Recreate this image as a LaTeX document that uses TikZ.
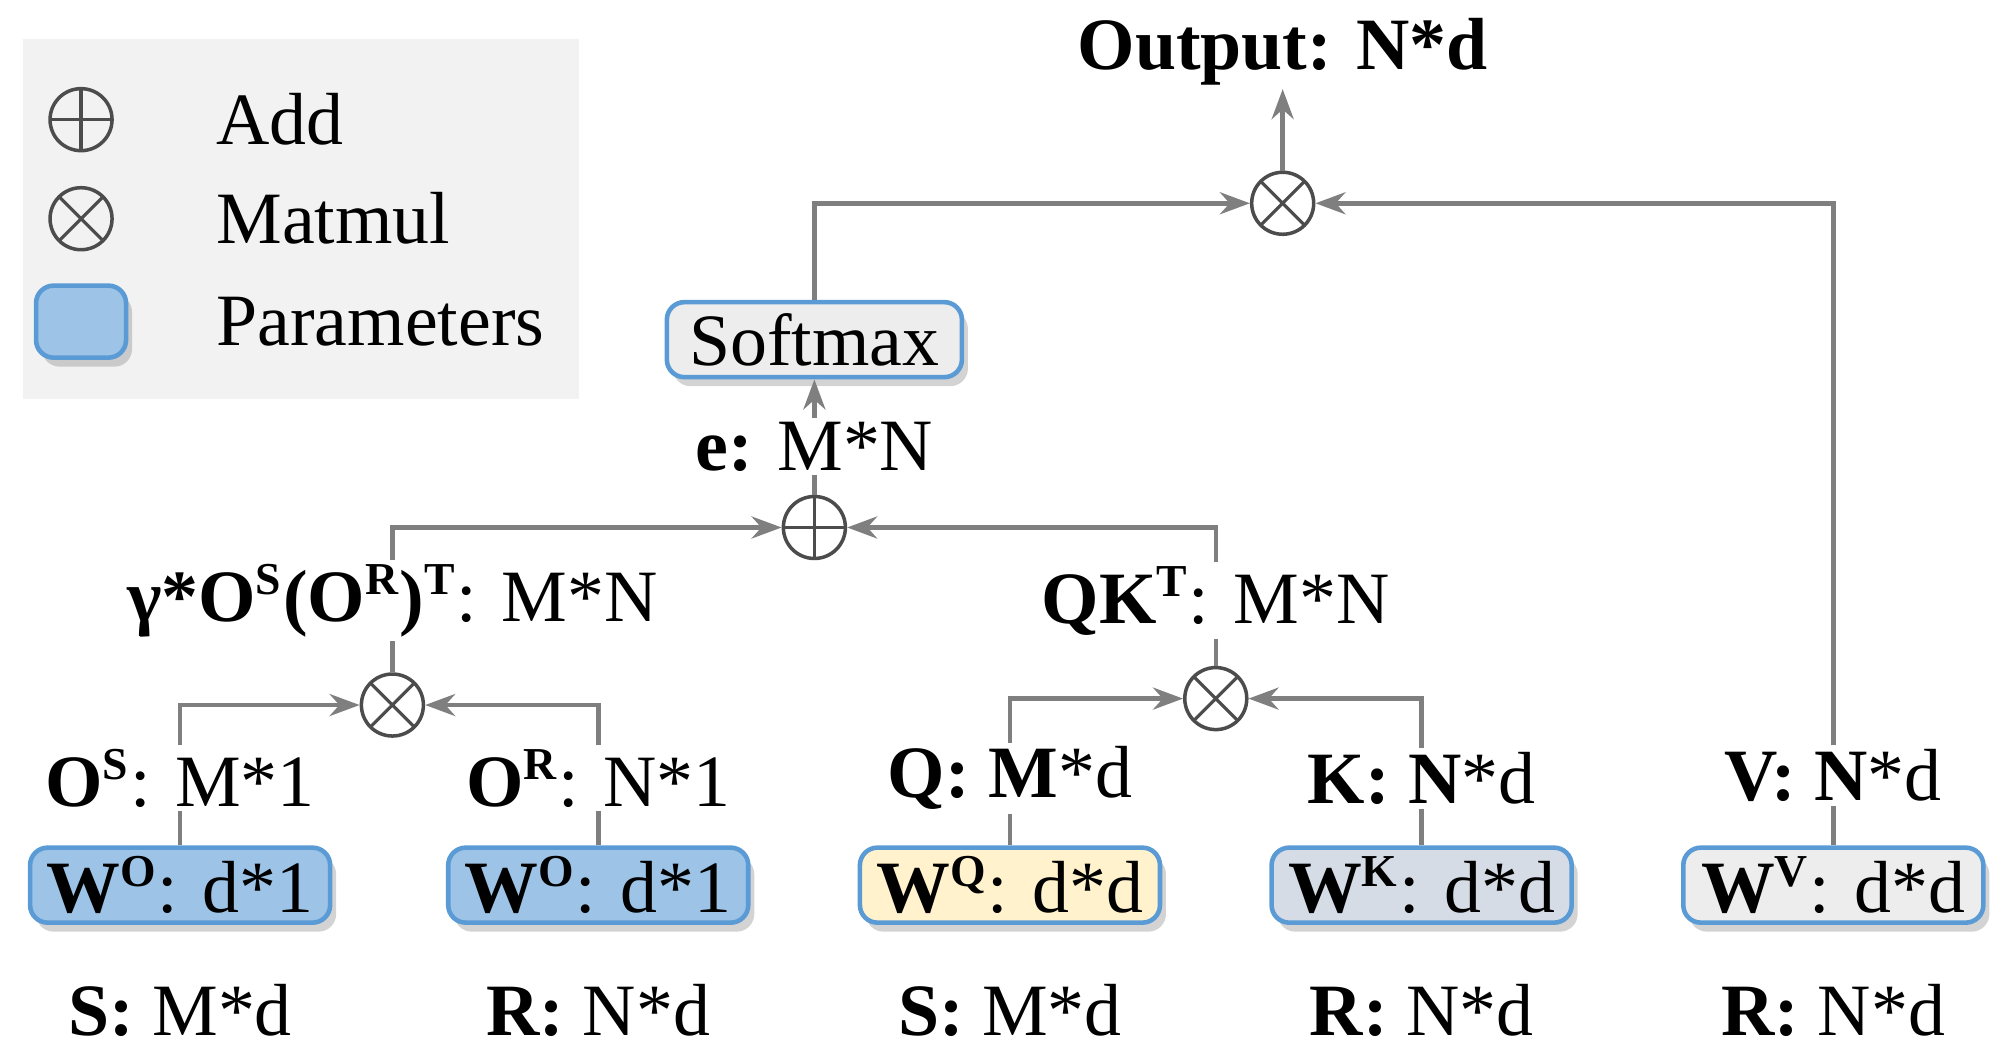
\documentclass[tikz,border=0pt]{standalone}
\usepackage{fontspec}
\setmainfont{Liberation Serif}
\usetikzlibrary{shadows,arrows.meta}
\definecolor{lineg}{HTML}{7F7F7F}
\definecolor{parblue}{HTML}{9DC3E6}
\definecolor{edgeblue}{HTML}{5B9BD5}
\definecolor{paryel}{HTML}{FFF2CC}
\definecolor{pargray}{HTML}{D6DCE5}
\definecolor{boxgray}{HTML}{EDEDED}
\tikzset{
  lbl/.style={font=\fontsize{21}{24}\selectfont, inner sep=1pt},
  wbox/.style={lbl, draw=edgeblue, line width=1.3pt, rounded corners=5pt, minimum width=3cm, minimum height=0.75cm, drop shadow={opacity=0.35,shadow xshift=0.6mm,shadow yshift=-0.9mm}},
  conn/.style={draw=lineg, line width=1.3pt},
  arr/.style={conn, -{Stealth[length=3mm,width=2.2mm]}},
  opadd/.style={circle, draw=black!70, line width=1pt, minimum size=0.62cm, inner sep=0pt,
    path picture={\draw[black!70,line width=0.9pt] (path picture bounding box.north) -- (path picture bounding box.south) (path picture bounding box.west) -- (path picture bounding box.east);}},
  opmul/.style={circle, draw=black!70, line width=1pt, minimum size=0.62cm, inner sep=0pt,
    path picture={\draw[black!70,line width=0.9pt] (path picture bounding box.north west) -- (path picture bounding box.south east) (path picture bounding box.north east) -- (path picture bounding box.south west);}}
}
\newcommand{\sps}[1]{\textsuperscript{\fontsize{13}{14}\selectfont #1}}
\begin{document}
\begin{tikzpicture}[x=0.012865cm,y=-0.012865cm]
\useasboundingbox (0,0) rectangle (1560,817);
% legend
\fill[black!5] (18,30) rectangle (450,310);
\node[opadd] (lgadd) at (63,93) {};
\node[opmul] (lgmul) at (63,170) {};
\node[draw=edgeblue, fill=parblue, line width=1.3pt, rounded corners=5pt, minimum width=0.9cm, minimum height=0.72cm, drop shadow={opacity=0.35,shadow xshift=0.6mm,shadow yshift=-0.9mm}] (lgpar) at (63,250) {};
\node[lbl, anchor=west] (lgtadd) at (165,93) {Add};
\node[lbl, anchor=west] (lgtmul) at (165,170) {Matmul};
\node[lbl, anchor=west] (lgtpar) at (165,250) {Parameters};
% top
\node[lbl] (out) at (997,40) {\textbf{Output: N*d}};
\node[opmul] (mulout) at (997,158) {};
\node[wbox, fill=boxgray, minimum width=2.95cm] (soft) at (633,264) {Softmax};
\node[lbl] (e) at (633,347) {\textbf{e:} M*N};
\node[opadd] (add) at (633,410) {};
\node[lbl] (gam) at (305,467) {\textbf{γ*O\sps{S}(O\sps{R})\sps{T}}: M*N};
\node[lbl] (qk) at (945,467) {\textbf{QK\sps{T}}: M*N};
\node[opmul] (mulo) at (305,548) {};
\node[opmul] (mulq) at (945,543) {};
% vectors
\node[lbl] (os) at (140,605) {\textbf{O\sps{S}}: M*1};
\node[lbl] (or) at (465,605) {\textbf{O\sps{R}}: N*1};
\node[lbl] (q) at (785,605) {\textbf{Q: M}*d};
\node[lbl] (k) at (1105,605) {\textbf{K: N}*d};
\node[lbl] (v) at (1425,603) {\textbf{V: N}*d};
% parameters
\node[wbox, fill=parblue] (wos) at (140,688) {\textbf{W\sps{O}}: d*1};
\node[wbox, fill=parblue] (wor) at (465,688) {\textbf{W\sps{O}}: d*1};
\node[wbox, fill=paryel] (wq) at (785,688) {\textbf{W\sps{Q}}: d*d};
\node[wbox, fill=pargray] (wk) at (1105,688) {\textbf{W\sps{K}}: d*d};
\node[wbox, fill=boxgray] (wv) at (1425,688) {\textbf{W\sps{V}}: d*d};
% inputs
\node[lbl] (s1) at (140,785) {\textbf{S:} M*d};
\node[lbl] (r1) at (465,785) {\textbf{R:} N*d};
\node[lbl] (s2) at (785,785) {\textbf{S:} M*d};
\node[lbl] (r2) at (1105,785) {\textbf{R:} N*d};
\node[lbl] (r3) at (1425,785) {\textbf{R:} N*d};
% connectors
\foreach \a/\b in {os/wos, or/wor, q/wq, k/wk, v/wv, gam/mulo, qk/mulq, e/add}
  \draw[conn] (\a.south) -- (\b.north);
\draw[arr] (os.north) |- (mulo.west);
\draw[arr] (or.north) |- (mulo.east);
\draw[arr] (q.north) |- (mulq.west);
\draw[arr] (k.north) |- (mulq.east);
\draw[arr] (gam.north) |- (add.west);
\draw[arr] (qk.north) |- (add.east);
\draw[arr] (e.north) -- (soft.south);
\draw[arr] (soft.north) |- (mulout.west);
\draw[arr] (v.north) |- (mulout.east);
\draw[arr] (mulout.north) -- (out.south);
\end{tikzpicture}
\end{document}
